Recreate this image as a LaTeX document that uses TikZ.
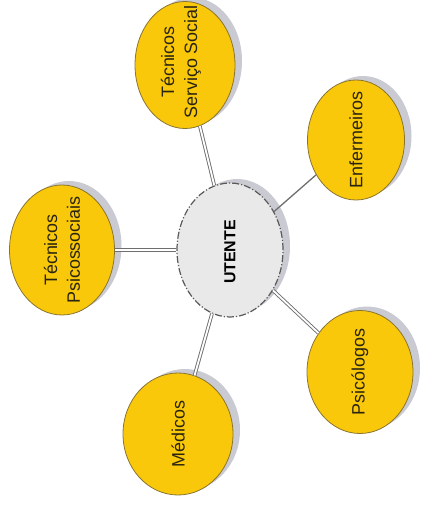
\documentclass[tikz,border=0pt]{standalone}
\usepackage{fontspec}
\setmainfont{Liberation Sans}
\usetikzlibrary{shapes.geometric}
\definecolor{yel}{HTML}{F9C80A}
\definecolor{yelborder}{HTML}{8A7530}
\definecolor{shad}{HTML}{CACAD3}
\definecolor{utfill}{HTML}{E9E9E9}
\definecolor{conn}{HTML}{6E6E6E}
\definecolor{txt}{HTML}{2A2410}
\begin{document}
\begin{tikzpicture}[x=1bp,y=-1bp,
  bubble/.style={ellipse, fill=yel, draw=yelborder, line width=0.8bp, inner sep=0pt},
  shadowell/.style={ellipse, fill=shad, inner sep=0pt},
  hub/.style={ellipse, fill=utfill, draw=black!65, line width=1.2bp,
    dash pattern=on 7bp off 2bp on 1.2bp off 2bp, inner sep=0pt},
  lbl/.style={rotate=90, align=center, text=txt, font=\fontsize{18}{23}\selectfont},
  hublbl/.style={rotate=90, text=black, font=\bfseries\fontsize{16}{20}\selectfont},
  dconn/.style={draw=conn, double=white, double distance=1.8bp, line width=0.9bp},
  sconn/.style={draw=conn, line width=1.3bp}]
\useasboundingbox (0,0) rectangle (427,526);
% shadows
\node[shadowell, minimum width=100bp, minimum height=127bp] (tssS) at (192,61) {};
\node[shadowell, minimum width=97bp, minimum height=120bp] (enfS) at (363,136) {};
\node[shadowell, minimum width=105bp, minimum height=130bp] (tpsS) at (69,246) {};
\node[shadowell, minimum width=106bp, minimum height=123bp] (psiS) at (367,368) {};
\node[shadowell, minimum width=110bp, minimum height=122bp] (medS) at (185,430) {};
\node[shadowell, minimum width=106bp, minimum height=134bp] (utS) at (237,246) {};
% nodes
\node[bubble, minimum width=100bp, minimum height=127bp] (tss) at (185,65) {};
\node[bubble, minimum width=97bp, minimum height=120bp] (enf) at (356,140) {};
\node[bubble, minimum width=105bp, minimum height=130bp] (tps) at (62,250) {};
\node[bubble, minimum width=106bp, minimum height=123bp] (psi) at (360,372) {};
\node[bubble, minimum width=110bp, minimum height=122bp] (med) at (178,434) {};
\node[hub, minimum width=106bp, minimum height=134bp] (ut) at (230,250) {};
% connectors
\draw[dconn] (ut) -- (tss);
\draw[sconn] (ut) -- (enf);
\draw[dconn] (ut) -- (tps);
\draw[dconn] (ut) -- (psi);
\draw[dconn] (ut) -- (med);
% labels
\node[lbl] (tssT) at (181,62) {Técnicos\\Serviço Social};
\node[lbl] (enfT) at (356,140) {Enfermeiros};
\node[lbl] (tpsT) at (62,250) {Técnicos\\Psicossociais};
\node[lbl] (psiT) at (360,372) {Psicólogos};
\node[lbl] (medT) at (178,434) {Médicos};
\node[hublbl] (utT) at (230,252) {UTENTE};
\end{tikzpicture}
\end{document}
